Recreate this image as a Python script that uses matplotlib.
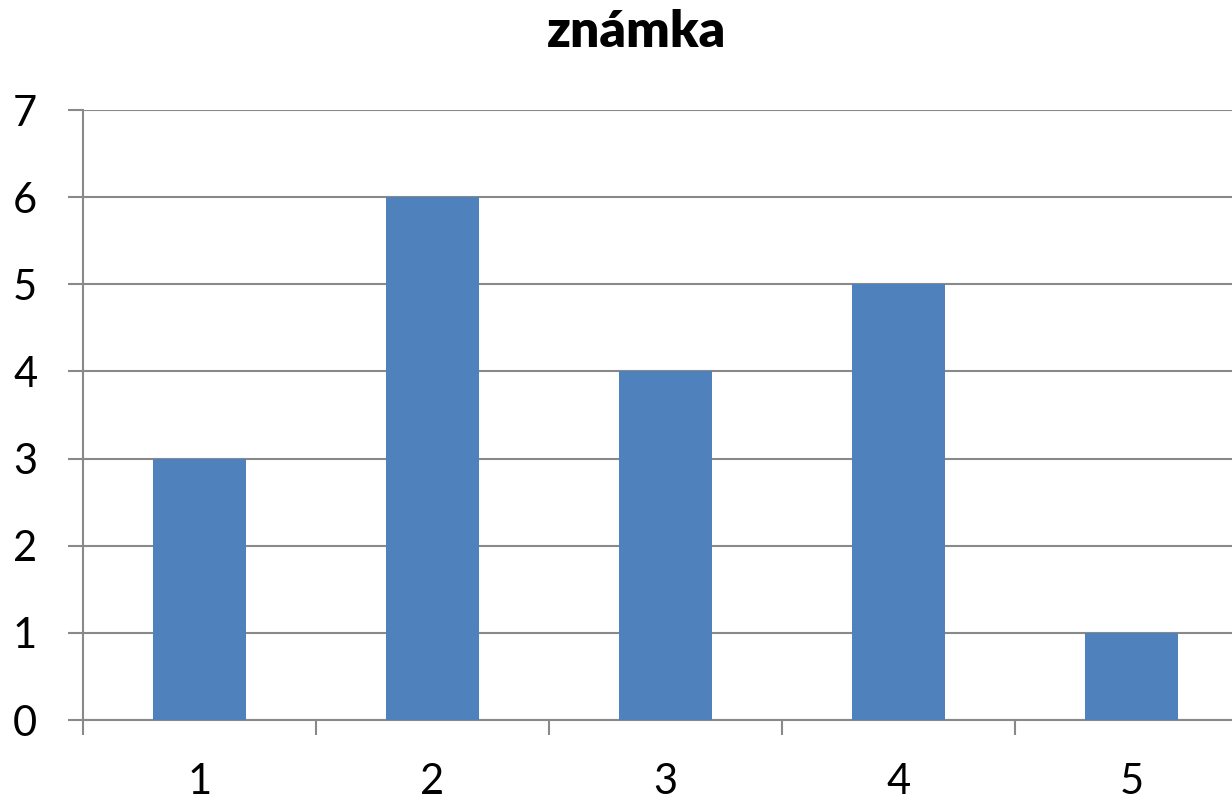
import matplotlib.pyplot as plt
from matplotlib.ticker import FixedLocator

# data
grades = ['1', '2', '3', '4', '5']
counts = [3, 6, 4, 5, 1]
title = 'známka'

bar_color = '#4F81BD'
axis_color = '#898989'

plt.rcParams['font.family'] = ['Lato', 'DejaVu Sans']

fig = plt.figure(figsize=(12.32, 8.02), dpi=100)
ax = fig.add_axes([83 / 1232, 82 / 802, 1165 / 1232, 610 / 802])

x = list(range(1, len(grades) + 1))
ax.bar(x, counts, width=0.4, color=bar_color, zorder=3)

ax.set_xlim(0.5, len(grades) + 0.5)
ax.set_ylim(0, 7)
ax.set_yticks(range(0, 8))

# category boundaries as major ticks, labels sit at the centres
ax.xaxis.set_major_locator(FixedLocator([i + 0.5 for i in range(len(grades))]))
ax.xaxis.set_major_formatter(plt.NullFormatter())
ax.xaxis.set_minor_locator(FixedLocator(x))
ax.set_xticklabels(grades, minor=True)

ax.tick_params(axis='x', which='major', direction='out', length=11, width=1.5,
               color=axis_color)
ax.tick_params(axis='x', which='minor', length=0, pad=31, labelsize=30)
ax.tick_params(axis='y', direction='out', length=11, width=1.5,
               color=axis_color, pad=22, labelsize=30)

ax.grid(axis='y', color=axis_color, linewidth=1.5, zorder=0)
for side in ['top', 'right']:
    ax.spines[side].set_visible(False)
for side in ['left', 'bottom']:
    ax.spines[side].set_color(axis_color)
    ax.spines[side].set_linewidth(1.5)

fig.text(636 / 1232, 1 - 32 / 802, title, ha='center', va='center',
         fontsize=37, fontweight='heavy')

fig.savefig('out.png', dpi=100, facecolor='white')
